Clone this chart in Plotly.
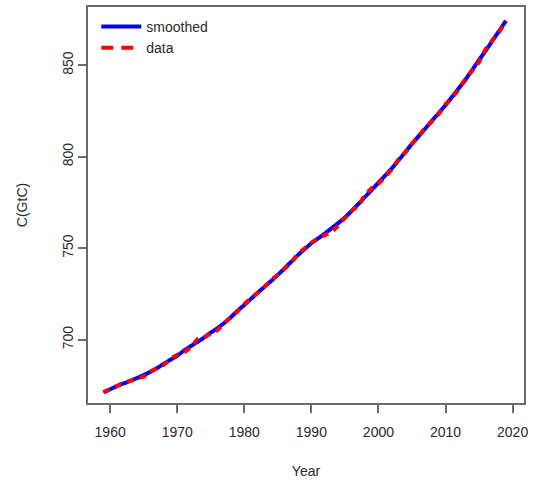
import plotly.graph_objects as go

# Annual atmospheric carbon stock, GtC
years = list(range(1959, 2020))
carbon_data = [
    671.1, 673.1, 674.7, 676.4, 677.5, 678.9, 679.8, 682.6, 684.3, 686.2,
    689.5, 691.7, 693.1, 695.5, 700.3, 701.3, 703.3, 705.2, 709.1, 712.4,
    715.4, 719.5, 722.4, 725.3, 728.8, 732.5, 735.6, 738.3, 741.9, 747.0,
    750.2, 752.9, 755.5, 757.3, 758.7, 762.4, 766.7, 770.5, 772.9, 779.2,
    782.8, 785.3, 788.7, 793.2, 798.6, 802.2, 807.1, 811.6, 815.7, 819.5,
    823.3, 828.6, 832.3, 837.0, 842.7, 847.1, 851.7, 859.0, 864.0, 868.1,
    874.4,
]
carbon_smoothed = [
    671.3, 672.9, 674.6, 676.1, 677.5, 679.0, 680.6, 682.4, 684.5, 686.9,
    689.0, 691.2, 694.0, 696.4, 698.7, 701.1, 703.8, 706.3, 709.1, 712.3,
    715.8, 719.0, 722.3, 725.7, 728.9, 732.1, 735.4, 739.0, 742.6, 746.2,
    749.5, 752.7, 755.3, 758.0, 760.8, 763.7, 766.8, 770.3, 774.1, 778.0,
    781.8, 785.8, 789.7, 793.6, 798.0, 802.5, 807.0, 811.2, 815.4, 819.7,
    823.9, 828.1, 832.8, 837.5, 842.2, 847.5, 852.9, 858.0, 863.4, 868.8,
    874.2,
]
x_ticks = [1960, 1970, 1980, 1990, 2000, 2010, 2020]
y_ticks = [700, 750, 800, 850]

FONT = "Liberation Sans, Arial, Helvetica, sans-serif"
AXIS_GREY = "#6a6a6a"
TEXT = "#2a2a2a"
BLUE = "#0000ff"
RED = "#ff0000"

fig = go.Figure()
fig.add_trace(go.Scatter(
    x=years, y=carbon_smoothed, mode="lines", name="smoothed",
    line=dict(color=BLUE, width=4, shape="spline", smoothing=0.8), showlegend=False,
))
fig.add_trace(go.Scatter(
    x=years, y=carbon_data, mode="lines", name="data",
    line=dict(color=RED, width=4, dash="7px,6px"), showlegend=False,
))
# legend keys (longer dash in the key than along the curve)
fig.add_trace(go.Scatter(
    x=[None], y=[None], mode="lines", name="smoothed",
    line=dict(color=BLUE, width=4),
))
fig.add_trace(go.Scatter(
    x=[None], y=[None], mode="lines", name="data",
    line=dict(color=RED, width=4, dash="12px,8px"),
))

axis_common = dict(
    showline=True, linecolor=AXIS_GREY, linewidth=1.5, mirror=True,
    ticks="outside", ticklen=8, tickwidth=1.5, tickcolor=AXIS_GREY,
    showgrid=False, zeroline=False,
    tickfont=dict(family=FONT, size=14, color=TEXT),
)

fig.update_layout(
    width=533, height=485,
    margin=dict(l=88, r=7, t=5, b=82),
    paper_bgcolor="white", plot_bgcolor="white",
    font=dict(family=FONT, color=TEXT),
    xaxis=dict(
        range=[1956.7, 2021.7], tickvals=x_ticks,
        ticktext=[str(v) for v in x_ticks], ticklabelstandoff=7,
        title=dict(text="Year", font=dict(family=FONT, size=14, color=TEXT), standoff=28),
        **axis_common,
    ),
    yaxis=dict(
        range=[665.4, 881.8], tickvals=y_ticks,
        ticktext=[str(v) for v in y_ticks], tickangle=-90,
        title=dict(text="C(GtC)", font=dict(family=FONT, size=14, color=TEXT), standoff=29),
        **axis_common,
    ),
    legend=dict(
        x=0.019, y=0.99, xanchor="left", yanchor="top",
        bgcolor="rgba(0,0,0,0)", borderwidth=0, itemwidth=40,
        font=dict(family=FONT, size=14, color=TEXT),
        tracegroupgap=0,
    ),
    showlegend=True,
)

fig.write_html("out.html")
